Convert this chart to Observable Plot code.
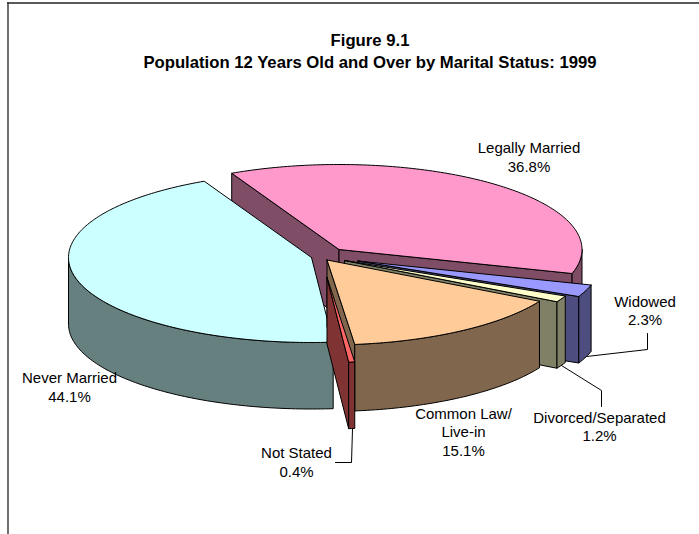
<!DOCTYPE html>
<html>
<head>
<meta charset="utf-8">
<script src="https://cdn.jsdelivr.net/npm/d3@7"></script>
<script src="https://cdn.jsdelivr.net/npm/@observablehq/plot@0.6"></script>
<style>html,body{margin:0;padding:0;background:#fff}svg{display:block}</style>
</head>
<body>
<div id="chart"></div>
<script>
// Data
const categories = ["Legally Married","Widowed","Divorced/Separated","Common Law/ Live-in","Not Stated","Never Married"];
const shares = [36.8, 2.3, 1.2, 15.1, 0.4, 44.1];
const titleLines = ["Figure 9.1","Population 12 Years Old and Over by Marital Status: 1999"];

// Colours
const topColors  = ["#FF99CC","#9999FF","#FFFFCC","#FFCC99","#FF6666","#CCFFFF"];
const wallColors = ["#804D66","#4D4D80","#808066","#80664D","#803333","#668080"];

// Pie geometry
const startAngle = -26.2, rx = 243, ry = 85, depth = 66.5;
const hubX = [338.5, 357.5, 344, 326.5, 326.5, 311];
const hubY = [249, 260.5, 260, 259.5, 277, 257];
const paintOrder = [0, 5, 1, 2, 3, 4];

const total = d3.sum(shares);
let acc = startAngle;
const spans = shares.map(s => { const a = acc; acc += s / total * 360; return [a, acc]; });
const rad = d => d * Math.PI / 180;
const rim = (i, t) => [hubX[i] + rx * Math.sin(rad(t)), hubY[i] - ry * Math.cos(rad(t))];
const arc = (i, a, b) => {
  const pts = [];
  const n = Math.max(2, Math.ceil(b - a));
  for (let k = 0; k <= n; k++) pts.push(rim(i, a + (b - a) * k / n));
  return pts;
};
const rows = [];
let pid = 0;
const addPoly = (pts, color) => {
  pid++;
  [...pts, pts[0]].forEach(([x, y], k) => rows.push({id: pid, x, y, color, k}));
};
const down = ([x, y]) => [x, y + depth];
for (const i of paintOrder) {
  const [a, b] = spans[i];
  const hub = [hubX[i], hubY[i]];
  if (Math.sin(rad(a)) < 0) { const r = rim(i, a); addPoly([hub, r, down(r), down(hub)], wallColors[i]); }
  if (Math.sin(rad(b)) > 0) { const r = rim(i, b); addPoly([hub, r, down(r), down(hub)], wallColors[i]); }
  const f0 = Math.max(a, 90), f1 = Math.min(b, 270);
  if (f1 > f0) { const top = arc(i, f0, f1); addPoly([...top, ...top.map(down).reverse()], wallColors[i]); }
  addPoly([hub, ...arc(i, a, b)], topColors[i]);
}

// Labels
const labels = [
  {t:"Legally Married", x:528.5, y:148}, {t:"36.8%", x:528.5, y:167},
  {t:"Widowed", x:644.5, y:302}, {t:"2.3%", x:644.5, y:320},
  {t:"Divorced/Separated", x:599, y:418}, {t:"1.2%", x:599, y:436},
  {t:"Common Law/", x:463, y:414}, {t:"Live-in", x:463, y:432}, {t:"15.1%", x:463, y:451},
  {t:"Not Stated", x:296, y:453}, {t:"0.4%", x:296, y:472},
  {t:"Never Married", x:69, y:378}, {t:"44.1%", x:69, y:397}
];
const leaders = [
  [[586,356],[647,349],[647,333]],
  [[561,365],[601,390],[601,406]],
  [[352,429],[351,462],[335,462]]
].flatMap((l, id) => l.map(([x, y]) => ({id, x, y})));
const titles = [{t:titleLines[0], y:40.5}, {t:titleLines[1], y:62}];

const font = "'Liberation Sans', Arial, sans-serif";
const chart = Plot.plot({
  width: 699, height: 534,
  margin: 0,
  x: {domain: [0, 699], axis: null},
  y: {domain: [534, 0], axis: null},
  color: {type: "identity"},
  style: {background: "#fff", fontFamily: font},
  marks: [
    Plot.ruleX([7.5], {y1: 2.5, y2: 534, stroke: "#222", strokeWidth: 1.3}),
    Plot.ruleY([2.5], {x1: 7, x2: 699, stroke: "#222", strokeWidth: 1.5}),
    Plot.line(leaders, {x: "x", y: "y", z: "id", stroke: "#000", strokeWidth: 1, curve: "linear"}),
    Plot.line(rows, {x: "x", y: "y", z: "id", fill: "color", stroke: "#000", strokeWidth: 1, curve: "linear", strokeLinejoin: "miter"}),
    Plot.text(labels, {x: "x", y: "y", text: "t", fontSize: 15, fill: "#000", fontFamily: font}),
    Plot.text(titles, {x: () => 369.5, y: "y", text: "t", fontSize: 16.7, fontWeight: "bold", fill: "#000", fontFamily: font})
  ]
});
document.getElementById("chart").append(chart);
</script>
</body>
</html>
